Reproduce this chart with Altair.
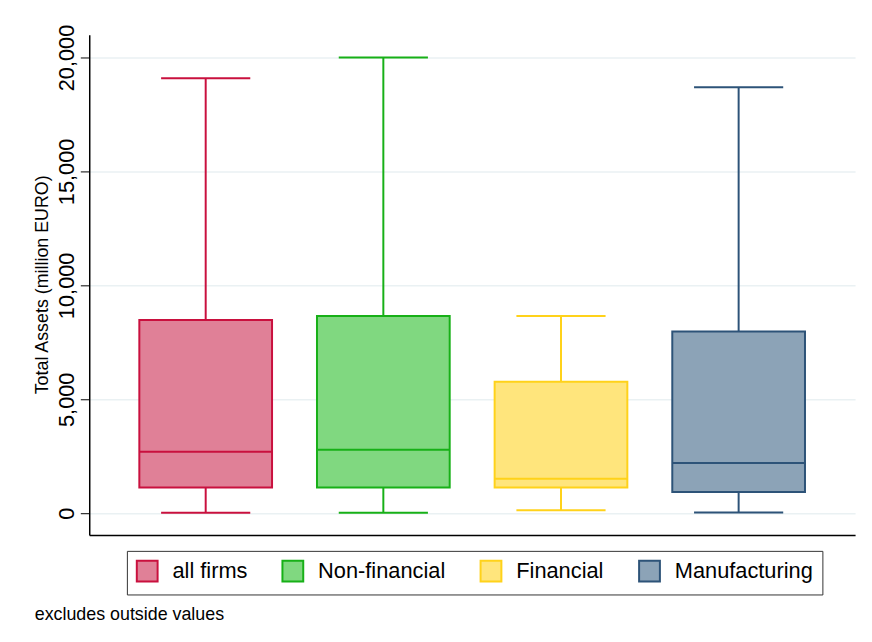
import altair as alt
import pandas as pd

# ---- data ----
categories = ["all firms", "Non-financial", "Financial", "Manufacturing"]
lower_whisker = [20, 20, 130, 30]
q1 = [1130, 1130, 1130, 926]
median = [2696, 2783, 1509, 2204]
q3 = [8478, 8652, 5770, 7970]
upper_whisker = [19087, 20000, 8652, 18696]

stroke_colors = ["#C9103E", "#17B017", "#FFD21A", "#2D5378"]
fill_colors = ["#E08097", "#80D880", "#FFE57C", "#8CA3B7"]

df = pd.DataFrame({
    "cat": categories,
    "lower": lower_whisker,
    "q1": q1,
    "median": median,
    "q3": q3,
    "upper": upper_whisker,
    "line_color": stroke_colors,
})

FONT = "Liberation Sans"

xscale = alt.Scale(paddingInner=0.253, paddingOuter=0.282)
xaxis = alt.Axis(labels=False, ticks=False, title=None, domain=True,
                 domainColor="#000000", domainWidth=1.5, grid=False)
yscale = alt.Scale(domain=[-957, 21000], nice=False, zero=False)
yaxis = alt.Axis(
    title="Total Assets (million EURO)",
    values=[0, 5000, 10000, 15000, 20000],
    format=",d",
    labelAngle=-90, labelAlign="center", labelBaseline="bottom",
    labelFontSize=22, labelFont=FONT, labelColor="#000000", labelPadding=2,
    tickSize=9, tickColor="#000000", tickWidth=1,
    domainColor="#000000", domainWidth=1.5,
    grid=True, gridColor="#EAF1F3", gridWidth=1.5,
    titleFont=FONT, titleFontSize=18, titleFontWeight="normal", titleColor="#000000",
    titleAngle=-90, titleX=-47, titleY=252, titleAlign="center", titleBaseline="middle",
)

stroke_scale = alt.Scale(domain=categories, range=stroke_colors)
fill_scale = alt.Scale(domain=categories, range=fill_colors)
line_color = alt.Color("line_color:N", scale=None)

def X(center=False):
    if center:
        return alt.X("cat:N", sort=categories, scale=xscale, axis=xaxis, bandPosition=0.5)
    return alt.X("cat:N", sort=categories, scale=xscale, axis=xaxis)

def Y(field):
    return alt.Y(f"{field}:Q", scale=yscale, axis=yaxis)

base = alt.Chart(df)

whisk_up = base.mark_rule(strokeWidth=2).encode(
    x=X(True), y=Y("q3"), y2="upper:Q", color=line_color)
whisk_lo = base.mark_rule(strokeWidth=2).encode(
    x=X(True), y=Y("lower"), y2="q1:Q", color=line_color)
cap_up = base.mark_tick(size=90, thickness=2, orient="horizontal", opacity=1).encode(
    x=X(), y=Y("upper"), color=line_color)
cap_lo = base.mark_tick(size=90, thickness=2, orient="horizontal", opacity=1).encode(
    x=X(), y=Y("lower"), color=line_color)

legend = alt.Legend(
    title=None, orient="none", legendX=38, legendY=521,
    direction="horizontal", columns=4, columnPadding=31,
    symbolType="square", symbolSize=441, symbolStrokeWidth=2,
    labelFont=FONT, labelFontSize=22, labelColor="#000000", labelOffset=14,
    padding=9, strokeColor="#333333", fillColor="#FFFFFF",
    symbolOpacity=1,
)

box = base.mark_bar(strokeWidth=2, opacity=1).encode(
    x=X(), y=Y("q1"), y2="q3:Q",
    fill=alt.Fill("cat:N", scale=fill_scale, legend=legend),
    stroke=alt.Stroke("cat:N", scale=stroke_scale, legend=legend),
)
med = base.mark_tick(size=134, thickness=2, orient="horizontal", opacity=1).encode(
    x=X(), y=Y("median"), color=line_color)

note = alt.Chart(pd.DataFrame({"t": ["excludes outside values"]})).mark_text(
    align="left", baseline="alphabetic", font=FONT, fontSize=18, color="#000000"
).encode(text="t:N", x=alt.value(-55), y=alt.value(591))

chart = alt.layer(whisk_up, whisk_lo, cap_up, cap_lo, box, med, note).properties(
    width=773, height=505,
    autosize=alt.AutoSizeParams(type="none"),
    padding={"left": 82, "top": 24, "right": 9, "bottom": 100},
    background="#FFFFFF",
).configure_view(stroke=None)

chart.save("out.html", embed_options={"renderer": "svg", "actions": False})
